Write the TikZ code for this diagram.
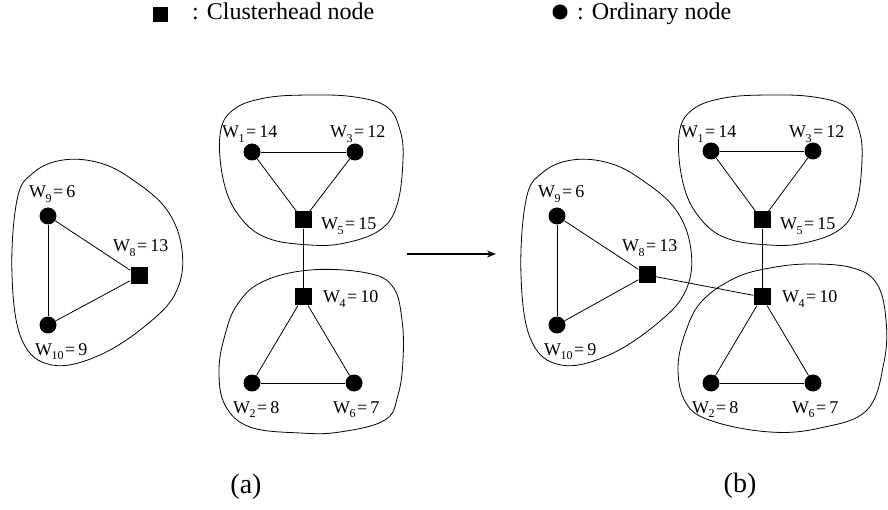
\documentclass[tikz,border=0pt]{standalone}
\usepackage{fontspec}
\setmainfont{Liberation Serif}
\usetikzlibrary{arrows.meta}
% weight label: W with subscript, then "= value"
\newcommand\wlab[2]{W\kern-0.5pt\lower4.5pt\hbox{\fontsize{12}{12}\selectfont #1}\kern1.5pt=\kern3pt#2}
\tikzset{
  ord/.style={circle,fill=black,inner sep=0pt,minimum size=17pt},
  head/.style={rectangle,fill=black,inner sep=0pt,minimum size=17pt},
  lbl/.style={anchor=base west,inner sep=0pt,font=\fontsize{18}{20}\selectfont},
  link/.style={line width=0.8pt},
  blob/.style={line width=0.8pt},
  legtext/.style={anchor=base west,inner sep=0pt,font=\fontsize{24}{26}\selectfont},
  caption/.style={inner sep=0pt,font=\fontsize{28}{30}\selectfont}
}
\begin{document}
\begin{tikzpicture}[x=1pt,y=-1pt]
\useasboundingbox (0,0) rectangle (888,510);

% legend
\node[rectangle,fill=black,inner sep=0pt,minimum size=15pt] (legsq) at (160,15) {};
\node[legtext] (legsqt) at (192,20) {: Clusterhead node};
\node[circle,fill=black,inner sep=0pt,minimum size=15pt] (legci) at (560,12) {};
\node[legtext] (legcit) at (577,20) {: Ordinary node};

% ---------------- (a) ----------------
\draw[blob] plot[smooth cycle,tension=0.65] coordinates {
  (17,200) (33,173) (63,160) (100,163) (133,180) (167,210) (182,250)
  (177,290) (150,322) (100,355) (52,365) (22,340) (12,275)};
\draw[blob] plot[smooth cycle,tension=0.65] coordinates {
  (220,135) (233,110) (265,98) (310,95) (355,97) (387,107) (400,130)
  (403,160) (397,205) (380,230) (345,243) (310,245) (267,238) (240,217) (224,183)};
\draw[blob] plot[smooth cycle,tension=0.65] coordinates {
  (237,305) (262,282) (310,270) (367,273) (393,287) (402,320) (403,360)
  (398,395) (385,420) (340,432) (300,433) (250,427) (225,405) (219,370) (225,335)};

\node[ord]  (a9)  at (48,216) {};
\node[ord]  (a10) at (48,325) {};
\node[head] (a8)  at (139,276) {};
\node[ord]  (a1)  at (252,152) {};
\node[ord]  (a3)  at (355,152) {};
\node[head] (a5)  at (303,220) {};
\node[head] (a4)  at (303,297) {};
\node[ord]  (a2)  at (252,383) {};
\node[ord]  (a6)  at (354,383) {};

\draw[link] (a9) -- (a10);
\draw[link] (a9) -- (a8);
\draw[link] (a10) -- (a8);
\draw[link] (a1) -- (a3);
\draw[link] (a1) -- (a5);
\draw[link] (a3) -- (a5);
\draw[link] (a5) -- (a4);
\draw[link] (a4) -- (a2);
\draw[link] (a4) -- (a6);
\draw[link] (a2) -- (a6);

\node[lbl] (a9l)  at (29,198)  {\wlab{9}{6}};
\node[lbl] (a8l)  at (113,252) {\wlab{8}{13}};
\node[lbl] (a10l) at (35,355)  {\wlab{10}{9}};
\node[lbl] (a1l)  at (222,138) {\wlab{1}{14}};
\node[lbl] (a3l)  at (330,138) {\wlab{3}{12}};
\node[lbl] (a5l)  at (321,230) {\wlab{5}{15}};
\node[lbl] (a4l)  at (323,303) {\wlab{4}{10}};
\node[lbl] (a2l)  at (233,413) {\wlab{2}{8}};
\node[lbl] (a6l)  at (333,413) {\wlab{6}{7}};

\node[caption] (capa) at (246,487) {(a)};

% arrow between the two states
\coordinate (arrs) at (407,254);
\coordinate (arre) at (496,254);
\draw[line width=1.4pt,-{Stealth[length=9pt,width=7pt]}] (arrs) -- (arre);

% ---------------- (b) ----------------
\begin{scope}[xshift=509pt]
\draw[blob] plot[smooth cycle,tension=0.65] coordinates {
  (17,200) (33,173) (63,160) (100,163) (133,180) (167,210) (182,250)
  (177,290) (150,322) (100,355) (52,365) (22,340) (12,275)};
\end{scope}
\begin{scope}[xshift=459pt]
\draw[blob] plot[smooth cycle,tension=0.65] coordinates {
  (220,135) (233,110) (265,98) (310,95) (355,97) (387,107) (400,130)
  (403,160) (397,205) (380,230) (345,243) (310,245) (267,238) (240,217) (224,183)};
\end{scope}
\draw[blob] plot[smooth cycle,tension=0.65] coordinates {
  (703,300) (735,278) (770,268) (810,264) (853,268) (877,284) (886,320)
  (884,362) (867,410) (820,428) (770,432) (712,421) (686,403) (678,367) (687,328)};

\node[ord]  (b9)  at (557,216) {};
\node[ord]  (b10) at (557,325) {};
\node[head] (b8)  at (647,275) {};
\node[ord]  (b1)  at (711,151) {};
\node[ord]  (b3)  at (813,151) {};
\node[head] (b5)  at (762,220) {};
\node[head] (b4)  at (762,297) {};
\node[ord]  (b2)  at (711,383) {};
\node[ord]  (b6)  at (813,383) {};

\draw[link] (b9) -- (b10);
\draw[link] (b9) -- (b8);
\draw[link] (b10) -- (b8);
\draw[link] (b8) -- (b4);
\draw[link] (b1) -- (b3);
\draw[link] (b1) -- (b5);
\draw[link] (b3) -- (b5);
\draw[link] (b5) -- (b4);
\draw[link] (b4) -- (b2);
\draw[link] (b4) -- (b6);
\draw[link] (b2) -- (b6);

\node[lbl] (b9l)  at (538,198) {\wlab{9}{6}};
\node[lbl] (b8l)  at (622,252) {\wlab{8}{13}};
\node[lbl] (b10l) at (544,355) {\wlab{10}{9}};
\node[lbl] (b1l)  at (681,138) {\wlab{1}{14}};
\node[lbl] (b3l)  at (789,138) {\wlab{3}{12}};
\node[lbl] (b5l)  at (780,230) {\wlab{5}{15}};
\node[lbl] (b4l)  at (782,303) {\wlab{4}{10}};
\node[lbl] (b2l)  at (692,413) {\wlab{2}{8}};
\node[lbl] (b6l)  at (792,413) {\wlab{6}{7}};

\node[caption] (capb) at (740,486) {(b)};
\end{tikzpicture}
\end{document}
